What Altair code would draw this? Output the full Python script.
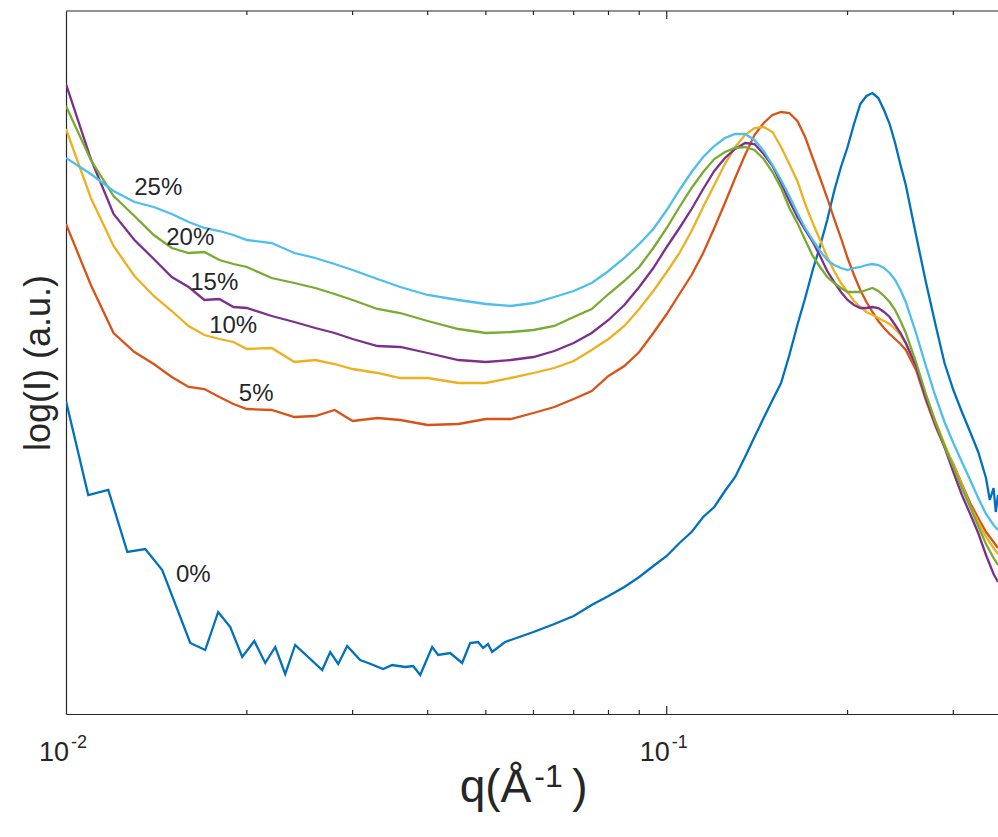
import altair as alt
import pandas as pd

# ---------------- data ----------------
q_grid = [0.010, 0.011, 0.012, 0.013, 0.014, 0.015, 0.016, 0.017, 0.018, 0.019,
          0.020, 0.022, 0.024, 0.026, 0.028, 0.030, 0.033, 0.036, 0.040, 0.045,
          0.050, 0.055, 0.060, 0.065, 0.070, 0.075, 0.080, 0.085, 0.090, 0.095,
          0.100, 0.105, 0.110, 0.115, 0.120, 0.125, 0.130, 0.135, 0.140, 0.145,
          0.150, 0.155, 0.160, 0.165, 0.170, 0.175, 0.180, 0.185, 0.190, 0.195,
          0.200, 0.205, 0.210, 0.215, 0.220, 0.225, 0.230, 0.235, 0.240, 0.245,
          0.250, 0.260, 0.270, 0.280, 0.290, 0.300, 0.310, 0.320, 0.330, 0.340,
          0.350, 0.356]

I_25 = [5.56, 5.40, 5.23, 5.12, 5.07, 5.00, 4.92, 4.86, 4.83, 4.79,
        4.74, 4.71, 4.61, 4.56, 4.50, 4.44, 4.35, 4.27, 4.19, 4.14,
        4.10, 4.08, 4.11, 4.17, 4.23, 4.31, 4.43, 4.56, 4.70, 4.85,
        5.04, 5.24, 5.42, 5.57, 5.68, 5.76, 5.80, 5.80, 5.74, 5.63,
        5.49, 5.34, 5.18, 5.01, 4.86, 4.74, 4.63, 4.54, 4.49, 4.46,
        4.44, 4.46, 4.47, 4.49, 4.50, 4.49, 4.46, 4.41, 4.34, 4.24,
        4.12, 3.81, 3.48, 3.18, 2.92, 2.71, 2.52, 2.34, 2.16, 2.00,
        1.89, 1.84]

I_20 = [6.08, 5.54, 5.18, 4.98, 4.79, 4.66, 4.61, 4.62, 4.54, 4.50,
        4.47, 4.36, 4.31, 4.26, 4.20, 4.14, 4.05, 4.01, 3.93, 3.85,
        3.81, 3.82, 3.84, 3.88, 3.97, 4.05, 4.20, 4.33, 4.47, 4.66,
        4.86, 5.07, 5.26, 5.42, 5.55, 5.62, 5.66, 5.67, 5.64, 5.55,
        5.42, 5.26, 5.06, 4.91, 4.74, 4.58, 4.47, 4.37, 4.31, 4.26,
        4.22, 4.22, 4.22, 4.24, 4.26, 4.23, 4.18, 4.12, 4.04, 3.93,
        3.81, 3.52, 3.20, 2.92, 2.68, 2.47, 2.26, 2.07, 1.88, 1.70,
        1.56, 1.49]

I_15 = [6.30, 5.55, 5.00, 4.74, 4.55, 4.37, 4.27, 4.14, 4.15, 4.07,
        4.06, 3.98, 3.92, 3.86, 3.81, 3.75, 3.68, 3.67, 3.61, 3.54,
        3.52, 3.54, 3.57, 3.63, 3.71, 3.81, 3.94, 4.09, 4.27, 4.46,
        4.67, 4.86, 5.05, 5.25, 5.43, 5.56, 5.65, 5.71, 5.70, 5.60,
        5.48, 5.31, 5.13, 4.97, 4.84, 4.72, 4.58, 4.43, 4.32, 4.22,
        4.14, 4.09, 4.06, 4.06, 4.07, 4.06, 4.02, 3.97, 3.89, 3.81,
        3.71, 3.48, 3.16, 2.90, 2.67, 2.42, 2.19, 2.00, 1.81, 1.59,
        1.40, 1.32]

I_10 = [5.85, 5.16, 4.68, 4.38, 4.18, 4.03, 3.88, 3.79, 3.75, 3.72,
        3.65, 3.66, 3.52, 3.54, 3.50, 3.45, 3.41, 3.36, 3.36, 3.31,
        3.31, 3.36, 3.41, 3.46, 3.53, 3.64, 3.75, 3.88, 4.05, 4.23,
        4.42, 4.61, 4.83, 5.07, 5.29, 5.50, 5.67, 5.79, 5.86, 5.87,
        5.82, 5.67, 5.50, 5.33, 5.10, 4.91, 4.74, 4.57, 4.43, 4.31,
        4.22, 4.13, 4.07, 4.02, 3.99, 3.96, 3.93, 3.90, 3.85, 3.79,
        3.71, 3.48, 3.19, 2.93, 2.70, 2.49, 2.29, 2.08, 1.92, 1.77,
        1.66, 1.60]

I_5 = [4.90, 4.29, 3.81, 3.62, 3.50, 3.37, 3.27, 3.25, 3.17, 3.10,
       3.05, 3.04, 2.97, 2.98, 3.04, 2.93, 2.96, 2.94, 2.89, 2.90,
       2.95, 2.95, 3.01, 3.07, 3.15, 3.23, 3.38, 3.48, 3.62, 3.81,
       4.00, 4.20, 4.39, 4.61, 4.86, 5.11, 5.36, 5.59, 5.79, 5.91,
       5.99, 6.02, 6.01, 5.93, 5.77, 5.56, 5.36, 5.16, 4.95, 4.76,
       4.56, 4.39, 4.24, 4.12, 4.02, 3.93, 3.86, 3.80, 3.75, 3.70,
       3.64, 3.44, 3.14, 2.88, 2.67, 2.50, 2.30, 2.11, 1.96, 1.82,
       1.72, 1.66]

q_0 = [0.01000, 0.01089, 0.01176, 0.01265, 0.01355, 0.01446, 0.01610, 0.01705,
       0.01792, 0.01877, 0.01965, 0.02058, 0.02146, 0.02230, 0.02317, 0.02407,
       0.02670, 0.02753, 0.02839, 0.02938, 0.03088, 0.03184, 0.03373, 0.03491,
       0.03669, 0.03784, 0.03887, 0.04069, 0.04164, 0.04360, 0.04565, 0.04707,
       0.04853, 0.04947, 0.05042, 0.05120, 0.05381,
       0.055, 0.060, 0.065, 0.070, 0.075, 0.080, 0.085, 0.090, 0.095, 0.100,
       0.105, 0.110, 0.115, 0.120, 0.125, 0.130, 0.135, 0.140, 0.145, 0.150,
       0.155, 0.160, 0.165, 0.170, 0.175, 0.180, 0.185, 0.190, 0.195, 0.200,
       0.205, 0.210, 0.215, 0.220, 0.225, 0.230, 0.235, 0.240, 0.245, 0.250,
       0.260, 0.270, 0.280, 0.290, 0.300, 0.310, 0.320, 0.330, 0.340,
       0.345, 0.350, 0.353, 0.356]

I_0 = [3.13, 2.19, 2.24, 1.62, 1.65, 1.44, 0.71, 0.64, 1.02, 0.87,
       0.57, 0.73, 0.51, 0.67, 0.40, 0.69, 0.44, 0.62, 0.50, 0.68,
       0.54, 0.51, 0.45, 0.49, 0.47, 0.48, 0.39, 0.67, 0.59, 0.61,
       0.51, 0.71, 0.72, 0.66, 0.70, 0.62, 0.72,
       0.74, 0.82, 0.90, 0.98, 1.09, 1.18, 1.27, 1.37, 1.48, 1.58,
       1.71, 1.82, 1.97, 2.07, 2.23, 2.37, 2.57, 2.77, 2.96, 3.14,
       3.31, 3.59, 3.89, 4.16, 4.44, 4.68, 4.94, 5.23, 5.47, 5.67,
       5.90, 6.10, 6.18, 6.21, 6.16, 6.04, 5.90, 5.71, 5.49, 5.29,
       4.79, 4.32, 3.90, 3.51, 3.24, 3.02, 2.82, 2.62, 2.36,
       2.14, 2.26, 2.02, 2.19]

series_names = ["0%", "5%", "10%", "15%", "20%", "25%"]
series_q = [q_0, q_grid, q_grid, q_grid, q_grid, q_grid]
series_I = [I_0, I_5, I_10, I_15, I_20, I_25]
series_colors = ["#0072BD", "#D95319", "#EDB120", "#7E2F8E", "#77AC30", "#4DBEEE"]

# curve labels (position in data units)
label_text = ["25%", "20%", "15%", "10%", "5%", "0%"]
label_q = [0.01424, 0.01610, 0.01765, 0.01898, 0.02073, 0.01629]
label_I = [5.26, 4.76, 4.31, 3.88, 3.20, 1.39]

# axis ticks
tick_major = [0.1]
tick_minor = [0.02, 0.03, 0.04, 0.05, 0.06, 0.07, 0.08, 0.09, 0.2, 0.3]
tick_label_q = [0.01, 0.1]
tick_label_base = ["10", "10"]
tick_label_exp = ["-2", "-1"]

# ---------------- chart ----------------
W, H = 932, 703
FONT = "Liberation Sans"
INK = "#262626"

xscale = alt.Scale(type="log", domain=[0.01, 0.356], nice=False)
yscale = alt.Scale(domain=[0, 7.03], nice=False, zero=False)

xaxis = alt.Axis(title=None, labels=False, ticks=False, grid=False,
                 domainColor=INK, domainWidth=1.2)
yaxis = alt.Axis(title="log(I) (a.u.)", labels=False, ticks=False, grid=False,
                 domainColor=INK, domainWidth=1.2,
                 titleFont=FONT, titleFontSize=36, titleFontWeight="normal",
                 titleColor=INK, titleX=-28, titleY=H / 2, titleAngle=-90,
                 titleAlign="center", titleBaseline="middle")

X = alt.X("q:Q", scale=xscale, axis=xaxis)
Y = alt.Y("logI:Q", scale=yscale, axis=yaxis)

layers = []
for name, qs, vs, col in zip(series_names, series_q, series_I, series_colors):
    assert len(qs) == len(vs), name
    df = pd.DataFrame({"q": qs, "logI": vs})
    layers.append(
        alt.Chart(df).mark_line(color=col, strokeWidth=2.3, clip=True).encode(x=X, y=Y)
    )

lab_df = pd.DataFrame({"q": label_q, "logI": label_I, "t": label_text})
layers.append(
    alt.Chart(lab_df).mark_text(font=FONT, fontSize=24, color=INK,
                                align="center", baseline="middle")
    .encode(x=X, y=Y, text="t:N")
)

# top border
top_df = pd.DataFrame({"q": [0.01]})
layers.append(
    alt.Chart(top_df).mark_rule(color=INK, strokeWidth=1.2)
    .encode(x=alt.value(0), x2=alt.value(W + 2), y=alt.value(0))
)

minor_df = pd.DataFrame({"q": tick_minor})
major_df = pd.DataFrame({"q": tick_major})
for dfk, ln in ((minor_df, 4), (major_df, 8)):
    layers.append(
        alt.Chart(dfk).mark_rule(color=INK, strokeWidth=1.2)
        .encode(x=X, y=alt.value(H), y2=alt.value(H - ln))
    )
    layers.append(
        alt.Chart(dfk).mark_rule(color=INK, strokeWidth=1.2)
        .encode(x=X, y=alt.value(0), y2=alt.value(ln))
    )

tl_df = pd.DataFrame({"q": tick_label_q, "b": tick_label_base, "e": tick_label_exp})
layers.append(
    alt.Chart(tl_df).mark_text(font=FONT, fontSize=27, color=INK,
                               align="right", baseline="alphabetic", dx=3)
    .encode(x=X, y=alt.value(750), text="b:N")
)
layers.append(
    alt.Chart(tl_df).mark_text(font=FONT, fontSize=18, color=INK,
                               align="left", baseline="alphabetic", dx=5)
    .encode(x=X, y=alt.value(737), text="e:N")
)

# x-axis title  q(Å^-1)
xt_df = pd.DataFrame({"q": [0.0595]})
layers.append(
    alt.Chart(xt_df).mark_text(font=FONT, fontSize=46, color=INK,
                               align="right", baseline="alphabetic")
    .encode(x=X, y=alt.value(791), text=alt.value("q(Å"))
)
layers.append(
    alt.Chart(xt_df).mark_text(font=FONT, fontSize=32, color=INK,
                               align="left", baseline="alphabetic", dx=3)
    .encode(x=X, y=alt.value(776), text=alt.value("-1"))
)
layers.append(
    alt.Chart(xt_df).mark_text(font=FONT, fontSize=46, color=INK,
                               align="left", baseline="alphabetic", dx=41)
    .encode(x=X, y=alt.value(791), text=alt.value(")"))
)

chart = (
    alt.layer(*layers)
    .properties(width=W, height=H,
                autosize=alt.AutoSizeParams(type="none"),
                padding={"left": 66, "top": 11, "right": 0, "bottom": 123},
                background="white")
    .configure_view(stroke=None)
)

chart.save("out.html", embed_options={"renderer": "svg", "actions": False})
